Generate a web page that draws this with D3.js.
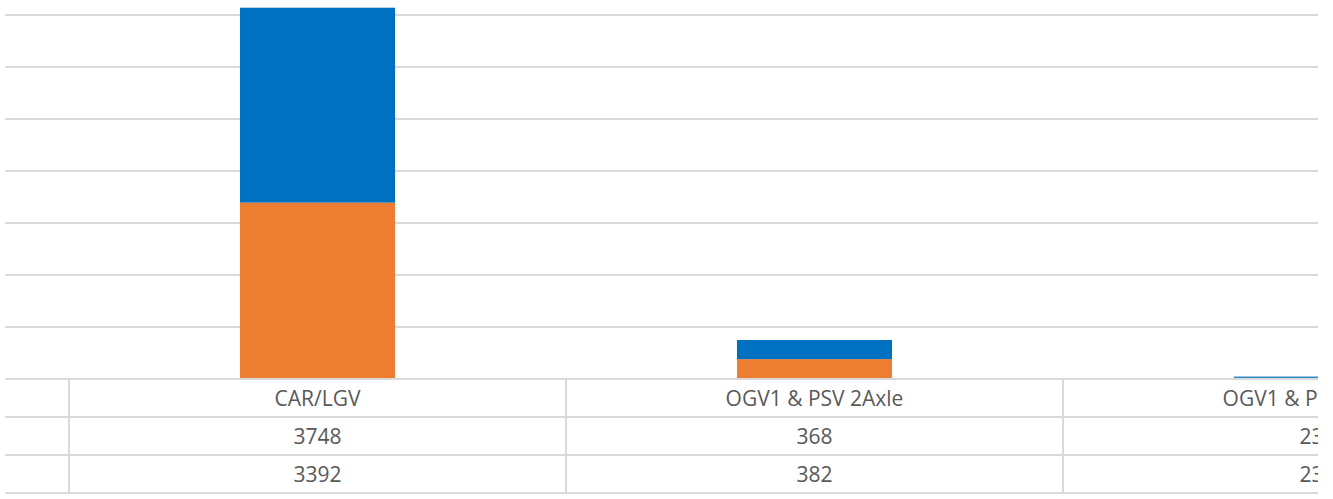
<!DOCTYPE html>
<html>
<head>
<meta charset="utf-8">
<script src="https://cdn.jsdelivr.net/npm/d3@7"></script>
<style>
  html, body { margin: 0; padding: 0; background: #ffffff; }
  svg { display: block; }
  text { font-family: "Open Sans", "Liberation Sans", sans-serif; fill: #595959; }
</style>
</head>
<body>
<svg id="chart" width="1333" height="499"></svg>
<script>
const categories = ["CAR/LGV", "OGV1 & PSV 2Axle", "OGV1 & PSV 3Axle"];
const seriesTop = [3748, 368, 23];     // blue
const seriesBottom = [3392, 382, 23];  // orange
const yTicks = [0, 1000, 2000, 3000, 4000, 5000, 6000, 7000];

const W = 1333, H = 499;
const clipLeft = 5, clipRight = 1318;
const plotLeft = 69, bandW = 497;
const baseY = 379, rowH = 38;
const gridColor = "#d9d9d9";
const colors = { top: "#0070C0", bottom: "#ED7D31" };

const svg = d3.select("#chart");
svg.append("defs").append("clipPath").attr("id", "clip")
  .append("rect").attr("x", clipLeft).attr("y", 0).attr("width", clipRight - clipLeft).attr("height", H);

const g = svg.append("g").attr("clip-path", "url(#clip)");

const x = d3.scaleBand().domain(categories)
  .range([plotLeft, plotLeft + bandW * categories.length]).padding(0);
const y = d3.scaleLinear().domain([0, 8000]).range([baseY, baseY - 416]);

// gridlines
g.append("g").selectAll("line").data(yTicks.filter(t => t > 0)).join("line")
  .attr("x1", clipLeft).attr("x2", clipRight)
  .attr("y1", d => Math.round(y(d))).attr("y2", d => Math.round(y(d)))
  .attr("stroke", gridColor).attr("stroke-width", 2);

// stacked bars
const rows = categories.map((c, i) => ({ cat: c, bottom: seriesBottom[i], top: seriesTop[i] }));
const stack = d3.stack().keys(["bottom", "top"])(rows);
const barW = x.bandwidth() * 0.312;
g.append("g").selectAll("g").data(stack).join("g")
  .attr("fill", d => colors[d.key])
  .selectAll("rect").data(d => d).join("rect")
  .attr("x", d => x(d.data.cat) + (x.bandwidth() - barW) / 2)
  .attr("width", barW)
  .attr("y", d => y(d[1]))
  .attr("height", d => y(d[0]) - y(d[1]));

// data table
const table = g.append("g");
const tableRows = [categories, seriesTop.map(String), seriesBottom.map(String)];
for (let r = 0; r <= tableRows.length; r++) {
  table.append("line")
    .attr("x1", clipLeft).attr("x2", clipRight)
    .attr("y1", baseY + r * rowH).attr("y2", baseY + r * rowH)
    .attr("stroke", gridColor).attr("stroke-width", 2);
}
const vx = [plotLeft].concat(categories.map(c => x(c) + x.bandwidth()));
table.selectAll("line.v").data(vx).join("line").attr("class", "v")
  .attr("x1", d => d).attr("x2", d => d)
  .attr("y1", baseY).attr("y2", baseY + rowH * 3)
  .attr("stroke", gridColor).attr("stroke-width", 2);

tableRows.forEach((row, r) => {
  table.append("g").selectAll("text").data(row).join("text")
    .attr("x", (d, i) => x(categories[i]) + x.bandwidth() / 2)
    .attr("y", baseY + r * rowH + 26.5)
    .attr("text-anchor", "middle")
    .attr("font-size", 21)
    .text(d => d);
});
</script>
</body>
</html>
